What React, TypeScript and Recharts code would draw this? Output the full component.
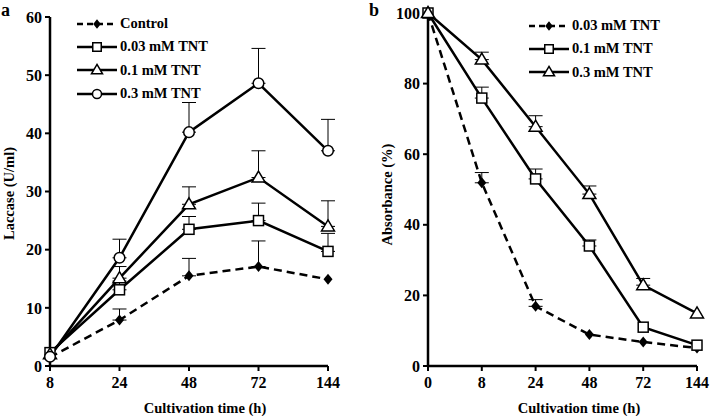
import React from 'react';
import { LineChart, Line, XAxis, YAxis, ErrorBar, Legend } from 'recharts';

const FONT = '"Liberation Serif", "Times New Roman", serif';

// panel a: laccase activity
const timesA = ['8', '24', '48', '72', '144'];
const controlA = [1.5, 7.9, 15.5, 17.1, 14.9];
const controlErrA = [0, 1.9, 3.0, 4.4, 0];
const tnt003A = [2.3, 13.1, 23.5, 25.0, 19.7];
const tnt003ErrA = [0, 1.5, 2.2, 3.0, 3.1];
const tnt01A = [2.0, 15.1, 27.8, 32.4, 24.0];
const tnt01ErrA = [0, 2.0, 3.0, 4.6, 4.4];
const tnt03A = [1.6, 18.6, 40.2, 48.6, 37.0];
const tnt03ErrA = [0, 3.2, 5.1, 6.0, 5.4];
const ticksA = [0, 10, 20, 30, 40, 50, 60];

// panel b: absorbance
const timesB = ['0', '8', '24', '48', '72', '144'];
const tnt003B = [100, 51.9, 16.9, 8.9, 6.8, 5.1];
const tnt003ErrB = [0, 2.9, 1.9, 0, 0, 0];
const tnt01B = [100, 75.9, 53.0, 34.0, 11.0, 5.9];
const tnt01ErrB = [0, 3.1, 2.8, 1.7, 0, 0];
const tnt03B = [100, 86.8, 67.8, 48.7, 22.9, 14.9];
const tnt03ErrB = [0, 2.1, 3.1, 2.3, 1.9, 0];
const ticksB = [0, 20, 40, 60, 80, 100];

// upper-only error bars: a hidden helper series sits halfway up the bar
// and carries a symmetric half-error, so the bar runs from the point to value+err
const withErr = (row: any, key: string, v: number, e: number) => {
  row[key] = v;
  row[key + 'Mid'] = v + e / 2;
  row[key + 'Half'] = e / 2;
};

const dataA = timesA.map((t, i) => {
  const row: any = { time: t };
  withErr(row, 'control', controlA[i], controlErrA[i]);
  withErr(row, 't003', tnt003A[i], tnt003ErrA[i]);
  withErr(row, 't01', tnt01A[i], tnt01ErrA[i]);
  withErr(row, 't03', tnt03A[i], tnt03ErrA[i]);
  return row;
});

const dataB = timesB.map((t, i) => {
  const row: any = { time: t };
  withErr(row, 't003', tnt003B[i], tnt003ErrB[i]);
  withErr(row, 't01', tnt01B[i], tnt01ErrB[i]);
  withErr(row, 't03', tnt03B[i], tnt03ErrB[i]);
  return row;
});

type Kind = 'diamond' | 'square' | 'triangle' | 'circle';

const Marker = ({ kind, cx, cy, s = 1 }: { kind: Kind; cx: number; cy: number; s?: number }) => {
  if (kind === 'diamond')
    return <polygon points={`${cx},${cy - 5.5 * s} ${cx + 4.5 * s},${cy} ${cx},${cy + 5.5 * s} ${cx - 4.5 * s},${cy}`} fill="#000" />;
  if (kind === 'square')
    return <rect x={cx - 5 * s} y={cy - 5 * s} width={10 * s} height={10 * s} fill="#fff" stroke="#000" strokeWidth={1.5} />;
  if (kind === 'triangle')
    return <polygon points={`${cx},${cy - 6.5 * s} ${cx + 6.5 * s},${cy + 4.5 * s} ${cx - 6.5 * s},${cy + 4.5 * s}`} fill="#fff" stroke="#000" strokeWidth={1.5} />;
  return <circle cx={cx} cy={cy} r={5.3 * s} fill="#fff" stroke="#000" strokeWidth={1.5} />;
};

const dot = (kind: Kind) => (p: any) => (
  <g key={`${kind}-${p.index}`}>
    <Marker kind={kind} cx={p.cx} cy={p.cy} />
  </g>
);

type Entry = { name: string; kind: Kind; dashed: boolean };

const legendA: Entry[] = [
  { name: 'Control', kind: 'diamond', dashed: true },
  { name: '0.03 mM TNT', kind: 'square', dashed: false },
  { name: '0.1 mM TNT', kind: 'triangle', dashed: false },
  { name: '0.3 mM TNT', kind: 'circle', dashed: false },
];
const legendB: Entry[] = [
  { name: '0.03 mM TNT', kind: 'diamond', dashed: true },
  { name: '0.1 mM TNT', kind: 'square', dashed: false },
  { name: '0.3 mM TNT', kind: 'triangle', dashed: false },
];

const LegendBox = ({ entries }: { entries: Entry[] }) => (
  <div style={{ fontFamily: FONT, fontWeight: 'bold', fontSize: 14.5, color: '#000' }}>
    {entries.map((e) => (
      <div key={e.name} style={{ display: 'flex', alignItems: 'center', height: 23.3 }}>
        <svg width={42} height={16} style={{ marginRight: 2 }}>
          <line x1={1} y1={8} x2={41} y2={8} stroke="#000" strokeWidth={2.5} strokeDasharray={e.dashed ? '6 4' : undefined} />
          <Marker kind={e.kind} cx={21} cy={8} s={0.85} />
        </svg>
        <span>{e.name}</span>
      </div>
    ))}
  </div>
);

const tickStyle = { fill: '#000', fontSize: 16, fontWeight: 'bold', fontFamily: FONT };
const labelStyle = { fill: '#000', fontSize: 14.5, fontWeight: 'bold', fontFamily: FONT };

const errLine = (key: string) => (
  <Line
    key={key + 'Mid'}
    dataKey={key + 'Mid'}
    stroke="none"
    dot={false}
    activeDot={false}
    legendType="none"
    isAnimationActive={false}
  >
    <ErrorBar dataKey={key + 'Half'} direction="y" width={7} stroke="#000" strokeWidth={1} />
  </Line>
);

const axisProps = {
  axisLine: { stroke: '#000', strokeWidth: 2.5 },
  tickLine: { stroke: '#000', strokeWidth: 2 },
  tickSize: 5,
  tick: tickStyle,
};

export default function App() {
  return (
    <div style={{ position: 'absolute', left: 0, top: 0, width: 710, height: 416, background: '#fff', display: 'flex' }}>
      <div style={{ position: 'absolute', left: 1, top: 0, fontFamily: FONT, fontWeight: 'bold', fontSize: 18 }}>a</div>
      <div style={{ position: 'absolute', left: 369, top: 0, fontFamily: FONT, fontWeight: 'bold', fontSize: 18 }}>b</div>

      <LineChart width={355} height={416} data={dataA} margin={{ top: 17, right: 27, left: 20, bottom: 0 }}>
        <XAxis
          dataKey="time"
          height={50}
          {...axisProps}
          tickMargin={6}
          label={{ value: 'Cultivation time (h)', position: 'center', dx: 16, dy: 17, ...labelStyle }}
        />
        <YAxis
          type="number"
          domain={[0, 60]}
          ticks={ticksA}
          width={30}
          {...axisProps}
          tickMargin={3}
          label={{ value: 'Laccase (U/ml)', angle: -90, position: 'center', dx: -26, dy: 2, ...labelStyle }}
        />
        <Legend
          layout="vertical"
          align="center"
          verticalAlign="middle"
          wrapperStyle={{ top: 12, left: 76, width: 'auto' }}
          content={() => <LegendBox entries={legendA} />}
        />
        {errLine('control')}
        {errLine('t003')}
        {errLine('t01')}
        {errLine('t03')}
        <Line dataKey="control" name="Control" stroke="#000" strokeWidth={2.5} strokeDasharray="8 5" dot={dot('diamond')} activeDot={false} isAnimationActive={false} />
        <Line dataKey="t003" name="0.03 mM TNT" stroke="#000" strokeWidth={2.5} dot={dot('square')} activeDot={false} isAnimationActive={false} />
        <Line dataKey="t01" name="0.1 mM TNT" stroke="#000" strokeWidth={2.5} dot={dot('triangle')} activeDot={false} isAnimationActive={false} />
        <Line dataKey="t03" name="0.3 mM TNT" stroke="#000" strokeWidth={2.5} dot={dot('circle')} activeDot={false} isAnimationActive={false} />
      </LineChart>

      <LineChart width={355} height={416} data={dataB} margin={{ top: 13, right: 13, left: 40, bottom: 0 }}>
        <XAxis
          dataKey="time"
          height={50}
          {...axisProps}
          tickMargin={6}
          label={{ value: 'Cultivation time (h)', position: 'center', dx: 16.5, dy: 17, ...labelStyle }}
        />
        <YAxis
          type="number"
          domain={[0, 100]}
          ticks={ticksB}
          width={33}
          {...axisProps}
          tickMargin={3}
          label={{ value: 'Absorbance (%)', angle: -90, position: 'center', dx: -24.5, dy: 5, ...labelStyle }}
        />
        <Legend
          layout="vertical"
          align="center"
          verticalAlign="middle"
          wrapperStyle={{ top: 14, left: 173, width: 'auto' }}
          content={() => <LegendBox entries={legendB} />}
        />
        {errLine('t003')}
        {errLine('t01')}
        {errLine('t03')}
        <Line dataKey="t003" name="0.03 mM TNT" stroke="#000" strokeWidth={2.5} strokeDasharray="8 5" dot={dot('diamond')} activeDot={false} isAnimationActive={false} />
        <Line dataKey="t01" name="0.1 mM TNT" stroke="#000" strokeWidth={2.5} dot={dot('square')} activeDot={false} isAnimationActive={false} />
        <Line dataKey="t03" name="0.3 mM TNT" stroke="#000" strokeWidth={2.5} dot={dot('triangle')} activeDot={false} isAnimationActive={false} />
      </LineChart>
    </div>
  );
}
